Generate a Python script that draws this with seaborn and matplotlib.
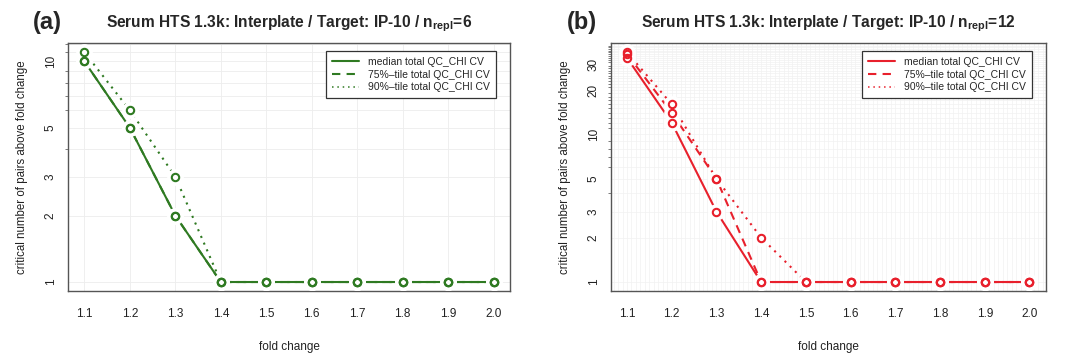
import matplotlib
matplotlib.use('Agg')
import matplotlib.pyplot as plt
from matplotlib.lines import Line2D
from matplotlib.ticker import FixedLocator, NullFormatter, MultipleLocator
import numpy as np
import pandas as pd
import seaborn as sns

# values
fold = [1.1, 1.2, 1.3, 1.4, 1.5, 1.6, 1.7, 1.8, 1.9, 2.0]
a_median = [10, 5, 2, 1, 1, 1, 1, 1, 1, 1]
a_q75 = [10, 5, 2, 1, 1, 1, 1, 1, 1, 1]
a_q90 = [11, 6, 3, 1, 1, 1, 1, 1, 1, 1]
b_median = [33, 12, 3, 1, 1, 1, 1, 1, 1, 1]
b_q75 = [35, 14, 5, 1, 1, 1, 1, 1, 1, 1]
b_q90 = [36, 16, 5, 2, 1, 1, 1, 1, 1, 1]

series_names = ['median total QC_CHI CV', '75%\u2013tile total QC_CHI CV',
                '90%\u2013tile total QC_CHI CV']
dash_styles = {series_names[0]: '', series_names[1]: (4, 3), series_names[2]: (1, 2.5)}

sns.set_style('white')
plt.rcParams['font.family'] = ['Liberation Sans', 'DejaVu Sans']
plt.rcParams['mathtext.fontset'] = 'custom'
plt.rcParams['mathtext.rm'] = 'Liberation Sans'
plt.rcParams['mathtext.bf'] = 'Liberation Sans:bold'

fig = plt.figure(figsize=(10.68, 3.56), dpi=100)
ax_a = fig.add_axes([0.0637, 0.182, 0.4138, 0.697])
ax_b = fig.add_axes([0.572, 0.182, 0.407, 0.697])


def draw_panel(ax, med, q75, q90, color, yticks, ymax, fine_grid, title):
    df = pd.DataFrame({
        'fold': fold * 3,
        'value': med + q75 + q90,
        'series': [series_names[0]] * len(fold) + [series_names[1]] * len(fold)
                  + [series_names[2]] * len(fold),
    })
    sns.lineplot(data=df, x='fold', y='value', style='series', dashes=dash_styles,
                 color=color, linewidth=1.5, legend=False, ax=ax, zorder=3)
    # R type="b": gaps round the open circles
    for vals in (med, q75, q90):
        ax.plot(fold, vals, 'o', ms=11, mfc='white', mec='white', zorder=4)
    for vals in (med, q75, q90):
        ax.plot(fold, vals, 'o', ms=5.3, mfc='none', mec=color, mew=1.5, zorder=5)

    ax.set_yscale('log')
    ax.set_xlim(1.1 - 0.036, 2.0 + 0.036)
    span = np.log10(ymax)
    ax.set_ylim(10 ** (-0.04 * span), 10 ** (span * 1.04))

    ax.xaxis.set_major_locator(FixedLocator(fold))
    ax.set_xticklabels(['%.1f' % f for f in fold])
    ax.yaxis.set_major_locator(FixedLocator(yticks))
    ax.set_yticklabels([str(t) for t in yticks], rotation=90, va='center')
    ax.yaxis.set_minor_locator(FixedLocator(list(range(1, int(ymax) + 5))))
    ax.yaxis.set_minor_formatter(NullFormatter())

    ax.tick_params(axis='both', which='major', direction='out', length=4,
                   width=0.8, color='#444444', labelsize=8.5, labelcolor='#222222')
    ax.tick_params(axis='x', which='major', pad=8)
    ax.tick_params(axis='y', which='major', pad=4)
    ax.tick_params(axis='y', which='minor', direction='out', length=2,
                   width=0.6, color='#666666', left=True)

    if fine_grid:
        ax.xaxis.set_minor_locator(MultipleLocator(0.01))
        ax.tick_params(axis='x', which='minor', length=0)
        ax.grid(True, which='both', axis='both', color='#f1f1f1', linewidth=0.5)
    else:
        ax.grid(True, which='major', axis='x', color='#ededed', linewidth=0.6)
        ax.grid(True, which='both', axis='y', color='#ededed', linewidth=0.6)
    ax.set_axisbelow(True)

    for sp in ax.spines.values():
        sp.set_color('#555555')
        sp.set_linewidth(1.0)

    ax.set_xlabel('fold change', fontsize=8.5, color='#222222', labelpad=15)
    ax.set_ylabel('critical number of pairs above fold change', fontsize=8.3,
                  color='#222222', labelpad=12)
    ax.set_title(title, fontsize=11.2, fontweight='bold', pad=11)

    handles = [Line2D([], [], color=color, lw=1.5, linestyle='-'),
               Line2D([], [], color=color, lw=1.5, linestyle=(0, (4, 3))),
               Line2D([], [], color=color, lw=1.1, linestyle=(0, (1, 2.5)))]
    leg = ax.legend(handles, series_names, loc='upper right', fontsize=7.5,
                    fancybox=False, framealpha=1, edgecolor='#333333',
                    handlelength=2.6, borderpad=0.6, labelspacing=0.25,
                    bbox_to_anchor=(0.98, 0.99))
    leg.get_frame().set_linewidth(0.9)


draw_panel(ax_a, a_median, a_q75, a_q90, '#2f7a22', [1, 2, 3, 5, 10], 11, False,
           r'Serum HTS 1.3k: Interplate / Target: IP-10 / n$_{\mathbf{repl}}$=6')
draw_panel(ax_b, b_median, b_q75, b_q90, '#e8202c', [1, 2, 3, 5, 10, 20, 30], 36, True,
           r'Serum HTS 1.3k: Interplate / Target: IP-10 / n$_{\mathbf{repl}}$=12')

fig.text(33 / 1068, 1 - 23 / 356, '(a)', fontsize=17, fontweight='bold', va='center')
fig.text(567 / 1068, 1 - 23 / 356, '(b)', fontsize=17, fontweight='bold', va='center')

fig.savefig('out.png', dpi=100)
